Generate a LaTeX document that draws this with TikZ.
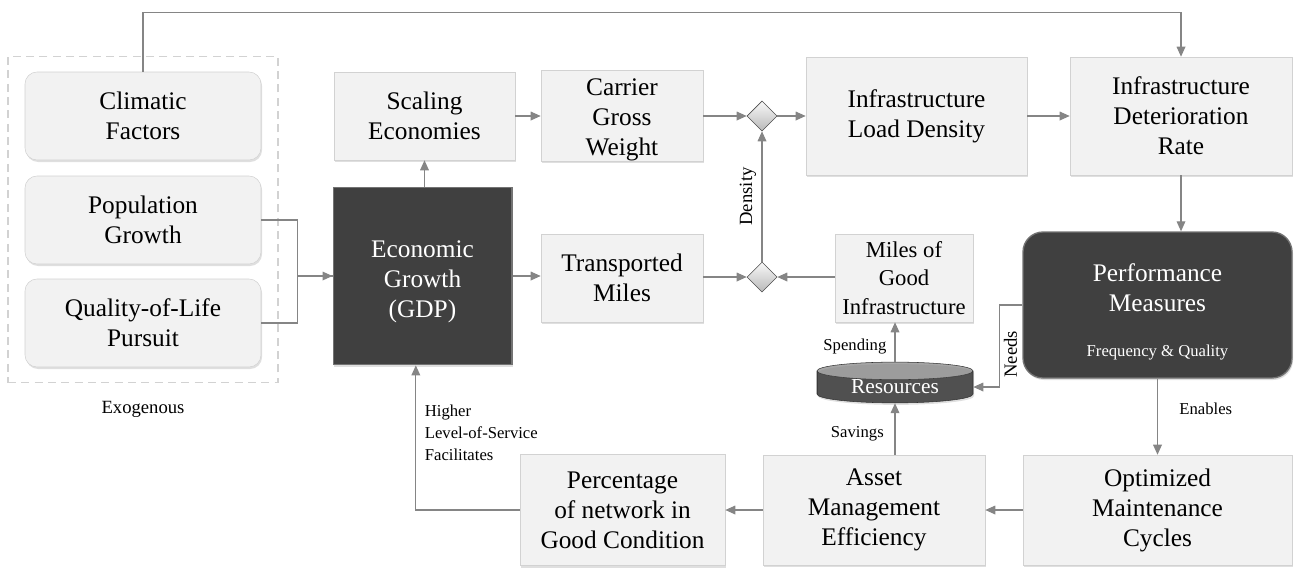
\documentclass[tikz,border=0pt]{standalone}
\usepackage{fontspec}
\setmainfont{Liberation Serif}
\usetikzlibrary{arrows.meta, positioning, shapes.geometric, shadows, fit}
\definecolor{boxfill}{HTML}{F2F2F2}
\definecolor{boxline}{HTML}{D2D2D2}
\definecolor{darkfill}{HTML}{404040}
\definecolor{linegray}{HTML}{858585}
\newcommand{\bigtxt}{\fontsize{19}{22.5}\selectfont}
\newcommand{\smalltxt}{\fontsize{12.5}{16.5}\selectfont}

\begin{document}
\begin{tikzpicture}[x=0.75pt,y=-0.75pt,box/.style={rectangle, draw=boxline, fill=boxfill, inner sep=0pt, align=center, font=\bigtxt, drop shadow={opacity=0.25, shadow xshift=0.8pt, shadow yshift=-1.5pt}},exo/.style={box, rounded corners=9pt, minimum width=177pt, minimum height=66pt},dark/.style={box, draw=black!55, line width=1pt, fill=darkfill, text=white},diam/.style={diamond, draw=black!70, top color=gray!5, bottom color=gray!55, minimum size=22.5pt, inner sep=0pt},arrow/.style={draw=linegray, line width=0.9pt, -{Triangle[length=7.5pt, width=6.5pt]}, color=linegray},line/.style={draw=linegray, line width=0.9pt},label/.style={font=\smalltxt, align=left, text=black}]
\useasboundingbox (0,0) rectangle (1296,576);
% exogenous factors
\node[exo] (clim) at (143,116) {Climatic\\Factors};
\node[exo] (pop) at (143,220) {Population\\Growth};
\node[exo] (qol) at (143,323) {Quality-of-Life\\Pursuit};
\node[draw=gray!35, dash pattern=on 6pt off 4pt, line width=1.1pt, inner xsep=12.5pt, inner ysep=11.5pt, fit=(clim)(qol)] (exobox) {};
\node[below=10pt of exobox, font=\fontsize{14}{16}\selectfont] {Exogenous};
% upper chain
\node[dark, minimum width=134pt, minimum height=133pt] (gdp) at (422.5,276) {\rule{0pt}{21pt}Economic\\Growth\\(GDP)};
\node[box, minimum width=135.75pt, minimum height=66pt] (scale) at (424.5,116) {Scaling\\Economies};
\node[box, minimum width=121.5pt, minimum height=66pt] (carrier) at (622,116) {\rule{0pt}{19pt}Carrier\\Gross\\Weight};
\node[diam] (d1) at (762,116) {};
\node[box, minimum width=165.75pt, minimum height=88.5pt] (load) at (916.5,116) {Infrastructure\\Load Density};
\node[box, minimum width=166.5pt, minimum height=88.5pt] (det) at (1181,116) {Infrastructure\\Deterioration\\Rate};
% middle row
\node[box, minimum width=121.5pt, minimum height=66pt] (trans) at (622,278) {Transported\\Miles};
\node[diam] (d2) at (762,277) {};
\node[box, minimum width=103.5pt, minimum height=66pt, font=\fontsize{17}{21.5}\selectfont] (miles) at (904,278) {Miles of\\Good\\Infrastructure};
\node[dark, rounded corners=15pt, minimum width=201.75pt, minimum height=109.5pt] (perf) at (1157.5,305) {\rule{0pt}{24pt}Performance\\Measures\\[11pt]{\fontsize{12.5}{15}\selectfont Frequency \& Quality}};
\node[cylinder, shape border rotate=90, aspect=0.2, draw=black!80, cylinder uses custom fill, cylinder body fill=darkfill, cylinder end fill=gray!70, minimum width=117pt, minimum height=30pt, inner sep=0pt, text=white, font=\fontsize{16}{19}\selectfont, drop shadow={opacity=0.25, shadow xshift=0.8pt, shadow yshift=-1.5pt}] (res) at (895,387) {Resources};
% bottom row
\node[box, minimum width=201.75pt, minimum height=82.5pt] (opt) at (1157.5,510) {Optimized\\Maintenance\\Cycles};
\node[box, minimum width=166.5pt, minimum height=82.5pt] (asset) at (874,510) {Asset\\Management\\Efficiency};
\node[box, minimum width=153.75pt, minimum height=83.25pt] (pct) at (622.5,510) {Percentage\\of network in\\Good Condition};
% connectors
\draw[arrow] (pop.east) -- ++(36,0) |- (gdp.west);
\draw[line] (qol.east) -- ++(36,0) |- (gdp.west);
\draw[arrow] (clim.north) -- ++(0,-59) -| (det.north);
\draw[arrow] (gdp.north -| scale) -- (scale);
\draw[arrow] (scale) -- (carrier);
\draw[arrow] (carrier) -- (d1);
\draw[arrow] (d1) -- (load.west |- d1);
\draw[arrow] (load.east |- d1) -- (det.west |- d1);
\draw[arrow] (det.south) -- (det.south |- perf.north);
\draw[arrow] (gdp.east) -- (gdp.east -| trans.west);
\draw[arrow] (trans.east |- d2) -- (d2);
\draw[arrow] (miles.west |- d2) -- (d2);
\draw[arrow] (d2) -- node[sloped, above, font=\fontsize{14}{16}\selectfont, text=black, inner sep=4pt] {Density} (d1);
\draw[arrow] (perf) -- node[label, right, pos=0.4, inner sep=16pt] {Enables} (opt);
\draw[arrow] (perf.west) -- ++(-23,0) |- node[pos=0.3, rotate=90, anchor=north, font=\fontsize{14}{16}\selectfont, text=black, inner sep=3pt] {Needs} (res.east);
\draw[arrow] (res.north) -- node[label, left, inner sep=6pt, pos=0.4] {Spending} (res.north |- miles.south);
\draw[arrow] (res.south |- asset.north) -- node[label, left, inner sep=8pt, pos=0.4] {Savings} (res.south);
\draw[arrow] (opt) -- (asset);
\draw[arrow] (asset) -- (pct);
\draw[arrow] (pct.west) -| ([xshift=-5pt]gdp.south) node[label, pos=0.88, anchor=north west, xshift=3pt] {Higher\\Level-of-Service\\Facilitates};
\end{tikzpicture}
\end{document}
